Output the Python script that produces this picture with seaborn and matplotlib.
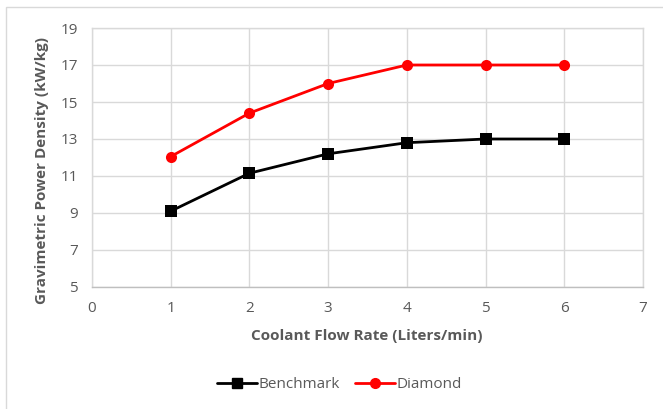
import matplotlib
matplotlib.use("Agg")
import matplotlib.pyplot as plt
import seaborn as sns
import pandas as pd
from matplotlib.patches import Rectangle

flow_rate = [1, 2, 3, 4, 5, 6]
benchmark = [9.1, 11.15, 12.2, 12.8, 13.0, 13.0]
diamond = [12.05, 14.4, 16.0, 17.0, 17.0, 17.0]
series_names = ["Benchmark", "Diamond"]
x_ticks = [0, 1, 2, 3, 4, 5, 6, 7]
y_ticks = [5, 7, 9, 11, 13, 15, 17, 19]

df = pd.DataFrame({
    "flow": flow_rate * 2,
    "density": benchmark + diamond,
    "series": [series_names[0]] * len(flow_rate) + [series_names[1]] * len(flow_rate),
})

sns.set_theme(style="white")
plt.rcParams["font.family"] = ["Open Sans", "DejaVu Sans"]

text_color = "#595959"
grid_color = "#d9d9d9"
W, H = 663, 409

fig = plt.figure(figsize=(6.63, 4.09), dpi=100)
ax = fig.add_axes([92 / W, 1 - 287 / H, (643 - 92) / W, (287 - 28) / H])

sns.lineplot(
    data=df, x="flow", y="density", hue="series", style="series",
    palette={"Benchmark": "black", "Diamond": "#ff0000"},
    markers={"Benchmark": "s", "Diamond": "o"}, dashes=False,
    linewidth=2.0, markersize=8, markeredgewidth=0, ax=ax, legend=False,
)

ax.set_xlim(0, 7)
ax.set_ylim(5, 19)
ax.set_xticks(x_ticks)
ax.set_yticks(y_ticks)
ax.grid(True, color=grid_color, linewidth=1.0)
ax.set_axisbelow(True)
for s in ax.spines.values():
    s.set_color(grid_color)
    s.set_linewidth(1.0)
ax.spines["bottom"].set_color("#bfbfbf")
ax.tick_params(axis="both", length=0, labelsize=11, labelcolor=text_color)
ax.tick_params(axis="x", pad=10)
ax.tick_params(axis="y", pad=10)

ax.set_xlabel("")
ax.set_ylabel("")
fig.text(367 / W, 1 - 336 / H, "Coolant Flow Rate (Liters/min)", fontsize=11,
         fontweight="bold", color=text_color, ha="center", va="center")
fig.text(42 / W, 1 - 171 / H, "Gravimetric Power Density (kW/kg)", fontsize=11,
         fontweight="bold", color=text_color, ha="center", va="center", rotation=90)

handles = [
    plt.Line2D([], [], color="black", marker="s", linewidth=2.0, markersize=7),
    plt.Line2D([], [], color="#ff0000", marker="o", linewidth=2.0, markersize=7),
]
leg = fig.legend(handles, series_names, loc="center", bbox_to_anchor=(0.512, 1 - 385 / H),
                 ncol=2, frameon=False, fontsize=11, handlelength=2.6,
                 handletextpad=0.1, columnspacing=1.0)
for t in leg.get_texts():
    t.set_color(text_color)

# outer chart frame
fig.patches.append(Rectangle((6 / W, -0.05), 1.2, 1 - 7 / H + 0.05,
                             transform=fig.transFigure, fill=False,
                             edgecolor=grid_color, linewidth=1.0))

fig.savefig("out.png", dpi=100)
